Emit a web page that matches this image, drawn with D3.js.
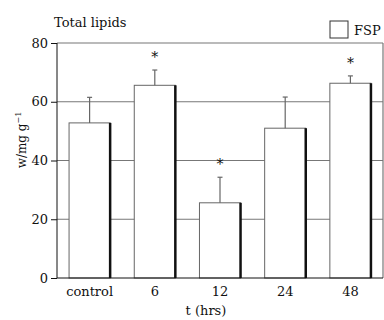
<!DOCTYPE html>
<html>
<head>
  <meta charset='utf-8'>
  <title>Total lipids</title>
  <style>
    body { margin: 0; background: #fff; }
    text { font-family: 'DejaVu Serif', 'Liberation Serif', serif; fill: #111; }
  </style>
  <script src='https://cdn.jsdelivr.net/npm/d3@7/dist/d3.min.js'></script>
</head>
<body>
  <svg id='chart' width='384' height='320'></svg>
  <script>
    // values
    const categories = ['control', '6', '12', '24', '48'];
    const means = [52.8, 65.6, 25.6, 51.0, 66.3];
    const errTops = [61.5, 70.8, 34.3, 61.6, 68.8];
    const significant = [false, true, true, false, true];
    const yTicks = [0, 20, 40, 60, 80];

    const svg = d3.select('#chart');
    const plot = { left: 57, right: 383, top: 43, bottom: 278 };

    const x = d3.scaleBand()
        .domain(categories)
        .range([plot.left, plot.right])
        .paddingInner(0.37)
        .paddingOuter(0.185);
    const y = d3.scaleLinear()
        .domain([0, 80])
        .range([plot.bottom, plot.top]);

    // grid lines
    svg.append('g')
        .selectAll('line')
        .data(yTicks.filter(d => d > 0))
        .join('line')
            .attr('x1', plot.left).attr('x2', plot.right)
            .attr('y1', d => y(d)).attr('y2', d => y(d))
            .attr('stroke', '#777').attr('stroke-width', 1.2);
    // right frame edge
    svg.append('line')
        .attr('x1', plot.right).attr('x2', plot.right)
        .attr('y1', plot.top).attr('y2', plot.bottom)
        .attr('stroke', '#777').attr('stroke-width', 1.2);

    // bars with dark right edge
    const bars = svg.append('g');
    bars.selectAll('rect')
        .data(means)
        .join('rect')
            .attr('x', (d, i) => x(categories[i]))
            .attr('y', d => y(d))
            .attr('width', x.bandwidth())
            .attr('height', d => plot.bottom - y(d))
            .attr('fill', '#fff')
            .attr('stroke', '#666').attr('stroke-width', 1);
    bars.selectAll('line.shadow')
        .data(means)
        .join('line')
            .attr('class', 'shadow')
            .attr('x1', (d, i) => x(categories[i]) + x.bandwidth())
            .attr('x2', (d, i) => x(categories[i]) + x.bandwidth())
            .attr('y1', d => y(d))
            .attr('y2', plot.bottom)
            .attr('stroke', '#111').attr('stroke-width', 2.5);

    // error bars
    const err = svg.append('g').attr('stroke', '#666').attr('stroke-width', 1.2);
    const cx = i => x(categories[i]) + x.bandwidth() / 2;
    err.selectAll('line.stem')
        .data(errTops)
        .join('line')
            .attr('class', 'stem')
            .attr('x1', (d, i) => cx(i)).attr('x2', (d, i) => cx(i))
            .attr('y1', (d, i) => y(means[i])).attr('y2', d => y(d));
    err.selectAll('line.cap')
        .data(errTops)
        .join('line')
            .attr('class', 'cap')
            .attr('x1', (d, i) => cx(i) - 2.5).attr('x2', (d, i) => cx(i) + 2.5)
            .attr('y1', d => y(d)).attr('y2', d => y(d));

    // asterisks
    svg.append('g')
        .selectAll('text')
        .data(errTops.map((d, i) => ({ v: d, i })).filter(d => significant[d.i]))
        .join('text')
            .attr('x', d => cx(d.i))
            .attr('y', d => y(d.v) - 8)
            .attr('text-anchor', 'middle')
            .attr('font-size', 14)
            .text('*');

    // axes
    const yAxis = d3.axisLeft(y).tickValues(yTicks).tickSize(6).tickPadding(3);
    const gY = svg.append('g')
        .attr('transform', `translate(${plot.left},0)`)
        .call(yAxis);
    gY.select('.domain').attr('stroke', '#111').attr('d', `M0,${plot.top}V${plot.bottom}`);
    gY.selectAll('.tick line').attr('stroke', '#111');
    gY.selectAll('.tick text')
        .attr('font-family', "'DejaVu Serif', serif")
        .attr('font-size', 13).attr('fill', '#111');

    const xAxis = d3.axisBottom(x).tickSize(0).tickPadding(9);
    const gX = svg.append('g')
        .attr('transform', `translate(0,${plot.bottom})`)
        .call(xAxis);
    gX.select('.domain').attr('stroke', '#111').attr('d', `M${plot.left},0H${plot.right}`);
    gX.selectAll('.tick text')
        .attr('font-family', "'DejaVu Serif', serif")
        .attr('font-size', 13).attr('fill', '#111');

    // labels
    svg.append('text')
        .attr('x', 54).attr('y', 27)
        .attr('font-size', 13)
        .text('Total lipids');
    svg.append('text')
        .attr('x', 206).attr('y', 315)
        .attr('text-anchor', 'middle')
        .attr('font-size', 13)
        .text('t (hrs)');
    const yl = svg.append('text')
        .attr('transform', 'translate(26,140) rotate(-90)')
        .attr('text-anchor', 'middle')
        .attr('font-size', 12);
    yl.append('tspan').text('w/mg g');
    yl.append('tspan').attr('dy', -5).attr('font-size', 8).text('\u22121');

    // legend
    svg.append('rect')
        .attr('x', 330).attr('y', 21)
        .attr('width', 18).attr('height', 17)
        .attr('fill', '#fff').attr('stroke', '#333').attr('stroke-width', 1);
    svg.append('text')
        .attr('x', 354).attr('y', 35)
        .attr('font-size', 13)
        .text('FSP');
  </script>
</body>
</html>
